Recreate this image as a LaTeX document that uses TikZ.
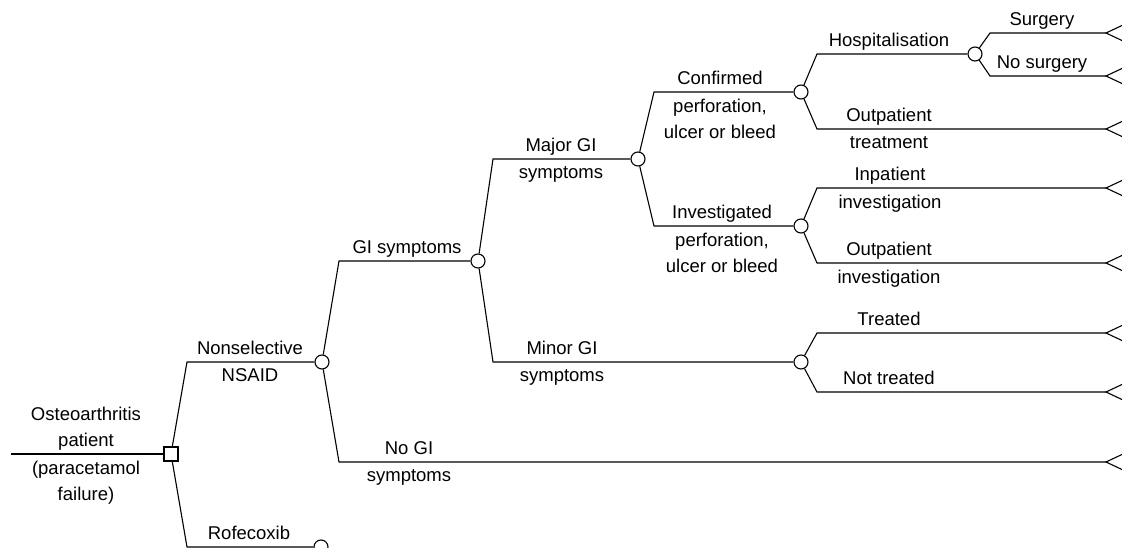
\documentclass[tikz,border=0pt]{standalone}
\usepackage{fontspec}
\setmainfont{Liberation Sans}

\tikzset{
  chance/.style = {draw, circle, fill = white, minimum size = 14pt, inner sep = 0pt},
  decision/.style = {draw, rectangle, fill = white, minimum size = 14pt, inner sep = 0pt},
  labup/.style = {anchor = south, align = center, inner sep = 0pt, text depth = 0pt, yshift = 7pt},
  labdown/.style = {anchor = north, align = center, inner sep = 0pt, yshift = -6.5pt}
}

\begin{document}
\begin{tikzpicture}[x = 1pt, y = -1pt, line width = 1.1pt, every node/.style = {font = \fontsize{18.5}{26}\selectfont}]
\useasboundingbox (0,0) rectangle (1122,548);
\clip (0,0) rectangle (1122,548);

\coordinate (start) at (11,454);
\node[decision] (choice) at (171,454) {};
\coordinate (e-nsaid) at (187,362);
\node[chance] (c-nsaid) at (322,362) {};
\coordinate (e-rofe) at (187,547);
\node[chance] (c-rofe) at (321,547) {};

\coordinate (e-gi) at (339,261);
\node[chance] (c-gi) at (478,261) {};
\coordinate (e-nogi) at (339,462);

\coordinate (e-major) at (493,159);
\node[chance] (c-major) at (638,159) {};
\coordinate (e-minor) at (493,362);
\node[chance] (c-minor) at (801,362) {};

\coordinate (e-conf) at (654,92);
\node[chance] (c-conf) at (801,92) {};
\coordinate (e-inv) at (654,226);
\node[chance] (c-inv) at (801,226) {};

\coordinate (e-hosp) at (817,54);
\node[chance] (c-hosp) at (975,54) {};
\coordinate (e-outtr) at (817,129);
\coordinate (e-inpinv) at (817,188);
\coordinate (e-outinv) at (817,263);
\coordinate (e-treat) at (817,333);
\coordinate (e-notreat) at (817,392);
\coordinate (e-surg) at (990,33);
\coordinate (e-nosurg) at (990,76);

\foreach \t/\y in {surg/33, nosurg/76, outtr/129, inpinv/188, outinv/263, treat/333, notreat/392, nogi/462}
  \coordinate (t-\t) at (1106,\y);

\draw (start) -- (choice);
\draw (choice) -- (e-nsaid) -- (c-nsaid);
\draw (choice) -- (e-rofe) -- (c-rofe);
\draw (c-nsaid) -- (e-gi) -- (c-gi);
\draw (c-nsaid) -- (e-nogi) -- (t-nogi);
\draw (c-gi) -- (e-major) -- (c-major);
\draw (c-gi) -- (e-minor) -- (c-minor);
\draw (c-major) -- (e-conf) -- (c-conf);
\draw (c-major) -- (e-inv) -- (c-inv);
\draw (c-conf) -- (e-hosp) -- (c-hosp);
\draw (c-conf) -- (e-outtr) -- (t-outtr);
\draw (c-hosp) -- (e-surg) -- (t-surg);
\draw (c-hosp) -- (e-nosurg) -- (t-nosurg);
\draw (c-inv) -- (e-inpinv) -- (t-inpinv);
\draw (c-inv) -- (e-outinv) -- (t-outinv);
\draw (c-minor) -- (e-treat) -- (t-treat);
\draw (c-minor) -- (e-notreat) -- (t-notreat);

\foreach \t in {surg, nosurg, outtr, inpinv, outinv, treat, notreat, nogi}
  \draw (t-\t) -- ++(17,-8) -- ++(0,16) -- cycle;

\node[labup] (l-root) at (86,454) {Osteoarthritis\\patient};
\node[labdown] (l-root2) at (86,454) {(paracetamol\\failure)};
\node[labup] (l-nsaid) at (250,362) {Nonselective};
\node[labdown] (l-nsaid2) at (250,362) {NSAID};
\node[labup] (l-rofe) at (249,547) {Rofecoxib};
\node[labup] (l-gi) at (407,261) {GI symptoms};
\node[labup] (l-nogi) at (409,462) {No GI};
\node[labdown] (l-nogi2) at (409,462) {symptoms};
\node[labup] (l-major) at (561,159) {Major GI};
\node[labdown] (l-major2) at (561,159) {symptoms};
\node[labup] (l-minor) at (562,362) {Minor GI};
\node[labdown] (l-minor2) at (562,362) {symptoms};
\node[labup] (l-conf) at (720,92) {Confirmed};
\node[labdown] (l-conf2) at (720,92) {perforation,\\ulcer or bleed};
\node[labup] (l-inv) at (722,226) {Investigated};
\node[labdown] (l-inv2) at (722,226) {perforation,\\ulcer or bleed};
\node[labup] (l-hosp) at (889,54) {Hospitalisation};
\node[labup] (l-outtr) at (889,129) {Outpatient};
\node[labdown] (l-outtr2) at (889,129) {treatment};
\node[labup] (l-inpinv) at (890,188) {Inpatient};
\node[labdown] (l-inpinv2) at (890,188) {investigation};
\node[labup] (l-outinv) at (889,263) {Outpatient};
\node[labdown] (l-outinv2) at (889,263) {investigation};
\node[labup] (l-treat) at (889,333) {Treated};
\node[labup] (l-notreat) at (889,392) {Not treated};
\node[labup] (l-surg) at (1042,33) {Surgery};
\node[labup] (l-nosurg) at (1042,76) {No surgery};

\end{tikzpicture}
\end{document}
